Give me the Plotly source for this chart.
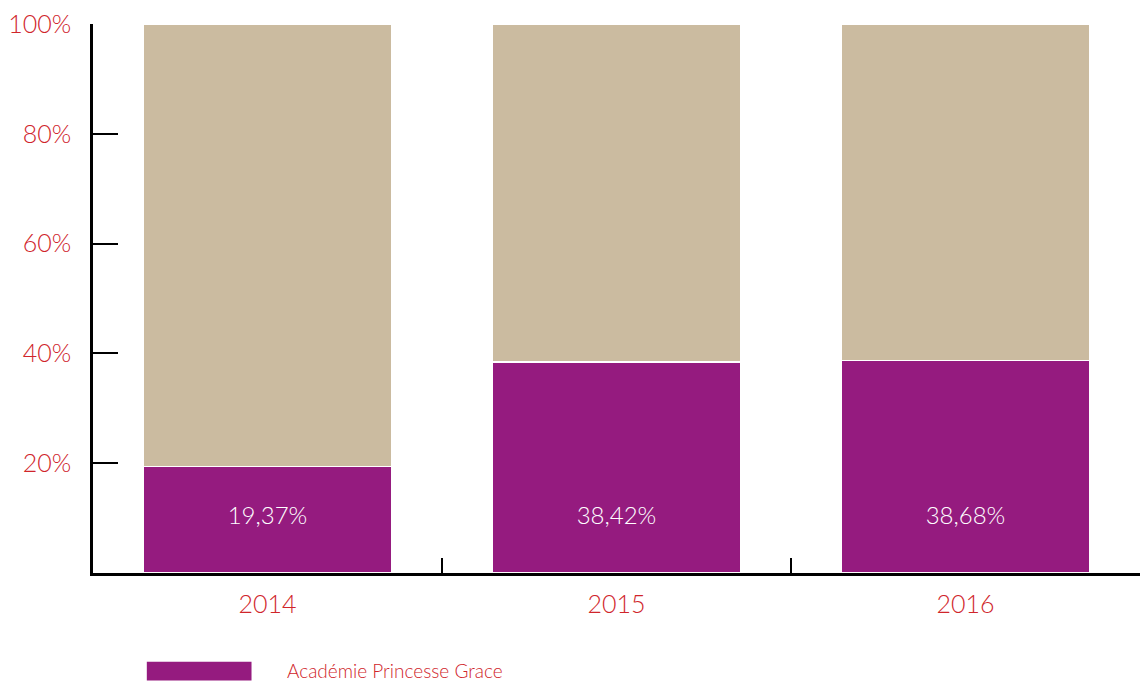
import plotly.graph_objects as go

years = ["2014", "2015", "2016"]
apg = [19.37, 38.42, 38.68]
other = [round(100 - v, 2) for v in apg]
apg_labels = ["19,37%", "38,42%", "38,68%"]
y_tickvals = [0, 20, 40, 60, 80, 100]
y_ticktext = ["", "20%", "40%", "60%", "80%", "100%"]
legend_name = "Académie Princesse Grace"

PURPLE = "#951B7F"
BEIGE = "#CBBBA0"
RED = "#D0252B"
FONT = "Lato"

fig = go.Figure()
fig.add_trace(go.Bar(x=years, y=apg, marker=dict(color=PURPLE, line=dict(color="white", width=1.5)),
                     name=legend_name, showlegend=False, hoverinfo="skip"))
fig.add_trace(go.Bar(x=years, y=other, marker=dict(color=BEIGE, line=dict(color="white", width=1.5)),
                     name="Autres", showlegend=False, hoverinfo="skip"))

# value labels inside the purple bars
label_y = 10
fig.add_trace(go.Scatter(x=years, y=[label_y] * len(years), mode="text", text=apg_labels,
                         textposition="middle center",
                         textfont=dict(family=FONT, size=24, color="white", weight=300),
                         showlegend=False, hoverinfo="skip"))

# legend (swatch + label)
fig.add_shape(type="rect", xref="paper", yref="paper", x0=0.0514, x1=0.1514, y0=-0.196, y1=-0.1615,
              fillcolor=PURPLE, line=dict(width=0))
fig.add_annotation(xref="paper", yref="paper", x=0.1838, y=-0.178, xanchor="left", yanchor="middle",
                   text=legend_name, showarrow=False,
                   font=dict(family=FONT, size=19, color=RED, weight=300))

fig.update_layout(
    barmode="stack",
    bargap=0.286,
    width=1148, height=685,
    margin=dict(l=88, r=8, t=19, b=112),
    paper_bgcolor="white", plot_bgcolor="white",
    font=dict(family=FONT, color=RED),
    showlegend=False,
)
fig.update_xaxes(
    type="category", range=[-0.5, 2.5],
    showline=True, linecolor="black", linewidth=2.5,
    ticks="inside", tickson="boundaries", ticklen=15, tickwidth=2, tickcolor="black",
    tickfont=dict(family=FONT, size=25, color=RED, weight=300),
    ticklabelstandoff=7,
    showgrid=False, zeroline=False,
)
fig.update_yaxes(
    range=[0, 100],
    tickvals=y_tickvals, ticktext=y_ticktext,
    showline=True, linecolor="black", linewidth=2.5,
    ticks="inside", ticklen=25, tickwidth=2, tickcolor="black",
    tickfont=dict(family=FONT, size=25, color=RED, weight=300),
    ticklabelstandoff=14, ticklabeloverflow="allow",
    showgrid=False, zeroline=False,
)

fig.write_html("out.html", config={"displayModeBar": False},
               post_script="document.body.style.margin='0';document.body.style.overflow='hidden';")
